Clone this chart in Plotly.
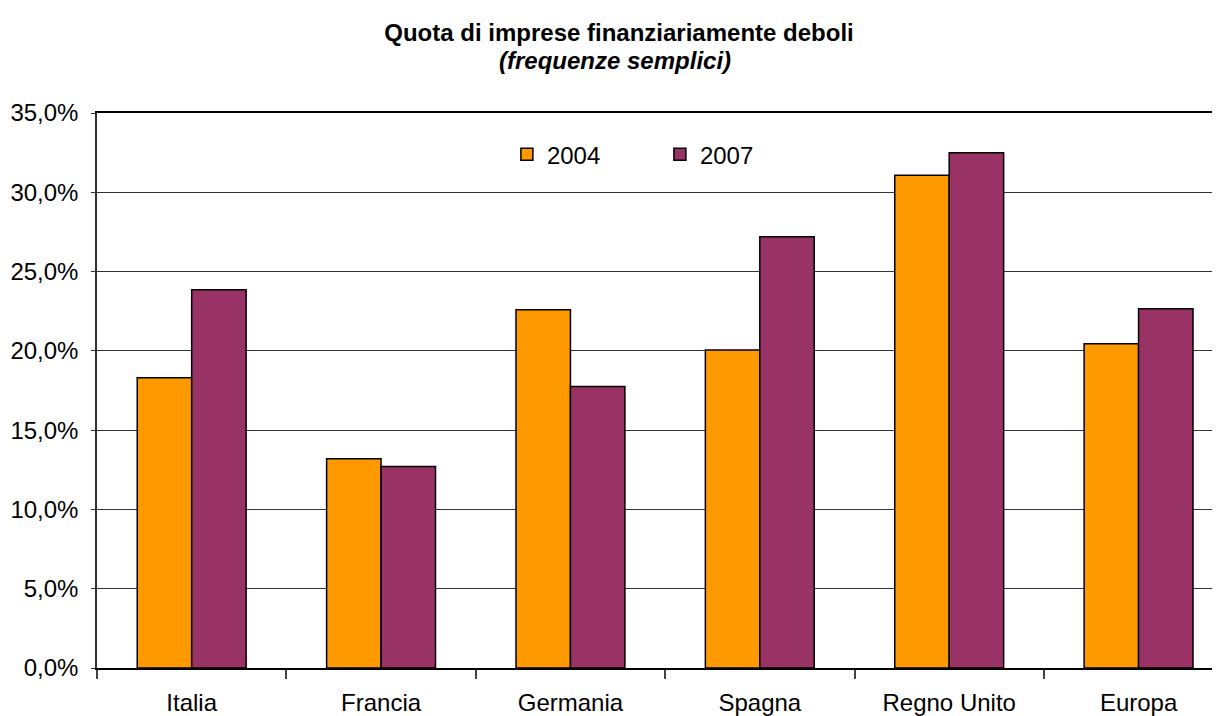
import plotly.graph_objects as go

categories = ["Italia", "Francia", "Germania", "Spagna", "Regno Unito", "Europa"]
values_2004 = [18.3, 13.2, 22.6, 20.05, 31.07, 20.45]
values_2007 = [23.85, 12.7, 17.75, 27.2, 32.5, 22.65]
series_names = ["2004", "2007"]
y_ticks = [0, 5, 10, 15, 20, 25, 30, 35]
y_tick_labels = [f"{v:.1f}".replace(".", ",") + "%" for v in y_ticks]

FONT = "Liberation Sans, Arial, sans-serif"

fig = go.Figure()
fig.add_trace(go.Bar(x=categories, y=values_2004, name=series_names[0],
                     marker=dict(color="#FF9900", line=dict(color="black", width=1.5))))
fig.add_trace(go.Bar(x=categories, y=values_2007, name=series_names[1],
                     marker=dict(color="#993366", line=dict(color="black", width=1.5))))

fig.update_layout(
    width=1212, height=708,
    margin=dict(l=89, r=0, t=105, b=48),
    paper_bgcolor="white", plot_bgcolor="white",
    font=dict(family=FONT, size=24, color="black"),
    barmode="group", bargap=0.425, bargroupgap=0,
    title=dict(
        text="<b>Quota di imprese finanziariamente deboli</b>",
        x=611 / 1212, xanchor="center", xref="container",
        y=1 - 25 / 708, yanchor="middle", yref="container",
        font=dict(family=FONT, size=24, color="black"),
    ),
    annotations=[dict(
        text="<b><i>(frequenze semplici)</i></b>",
        xref="paper", yref="paper", x=(607 - 89) / 1123, y=1 + (105 - 52) / 555,
        xanchor="center", yanchor="middle", showarrow=False,
        font=dict(family=FONT, size=24, color="black"),
    )],
    legend=dict(
        orientation="h", x=0.365, xanchor="left", y=0.925, yanchor="middle",
        font=dict(family=FONT, size=24, color="black"),
        bgcolor="rgba(0,0,0,0)", entrywidth=108, entrywidthmode="pixels",
        itemclick=False,
    ),
    showlegend=True,
)
fig.update_xaxes(
    type="category", range=[-0.5, 5.43],
    showline=True, linecolor="black", linewidth=1.5, mirror=True,
    ticks="outside", tickson="boundaries", ticklen=9, tickcolor="#444", tickwidth=1.5,
    ticklabelstandoff=12,
    showgrid=False, tickfont=dict(size=24),
)
fig.update_yaxes(
    range=[0, 35], tickvals=y_ticks, ticktext=y_tick_labels,
    showline=True, linecolor="#333", linewidth=1.5,
    ticks="outside", ticklen=4, tickcolor="#333",
    ticklabelstandoff=8,
    showgrid=True, gridcolor="#333", gridwidth=1, zeroline=False,
    tickfont=dict(size=24),
)

fig.write_html("out.html")
